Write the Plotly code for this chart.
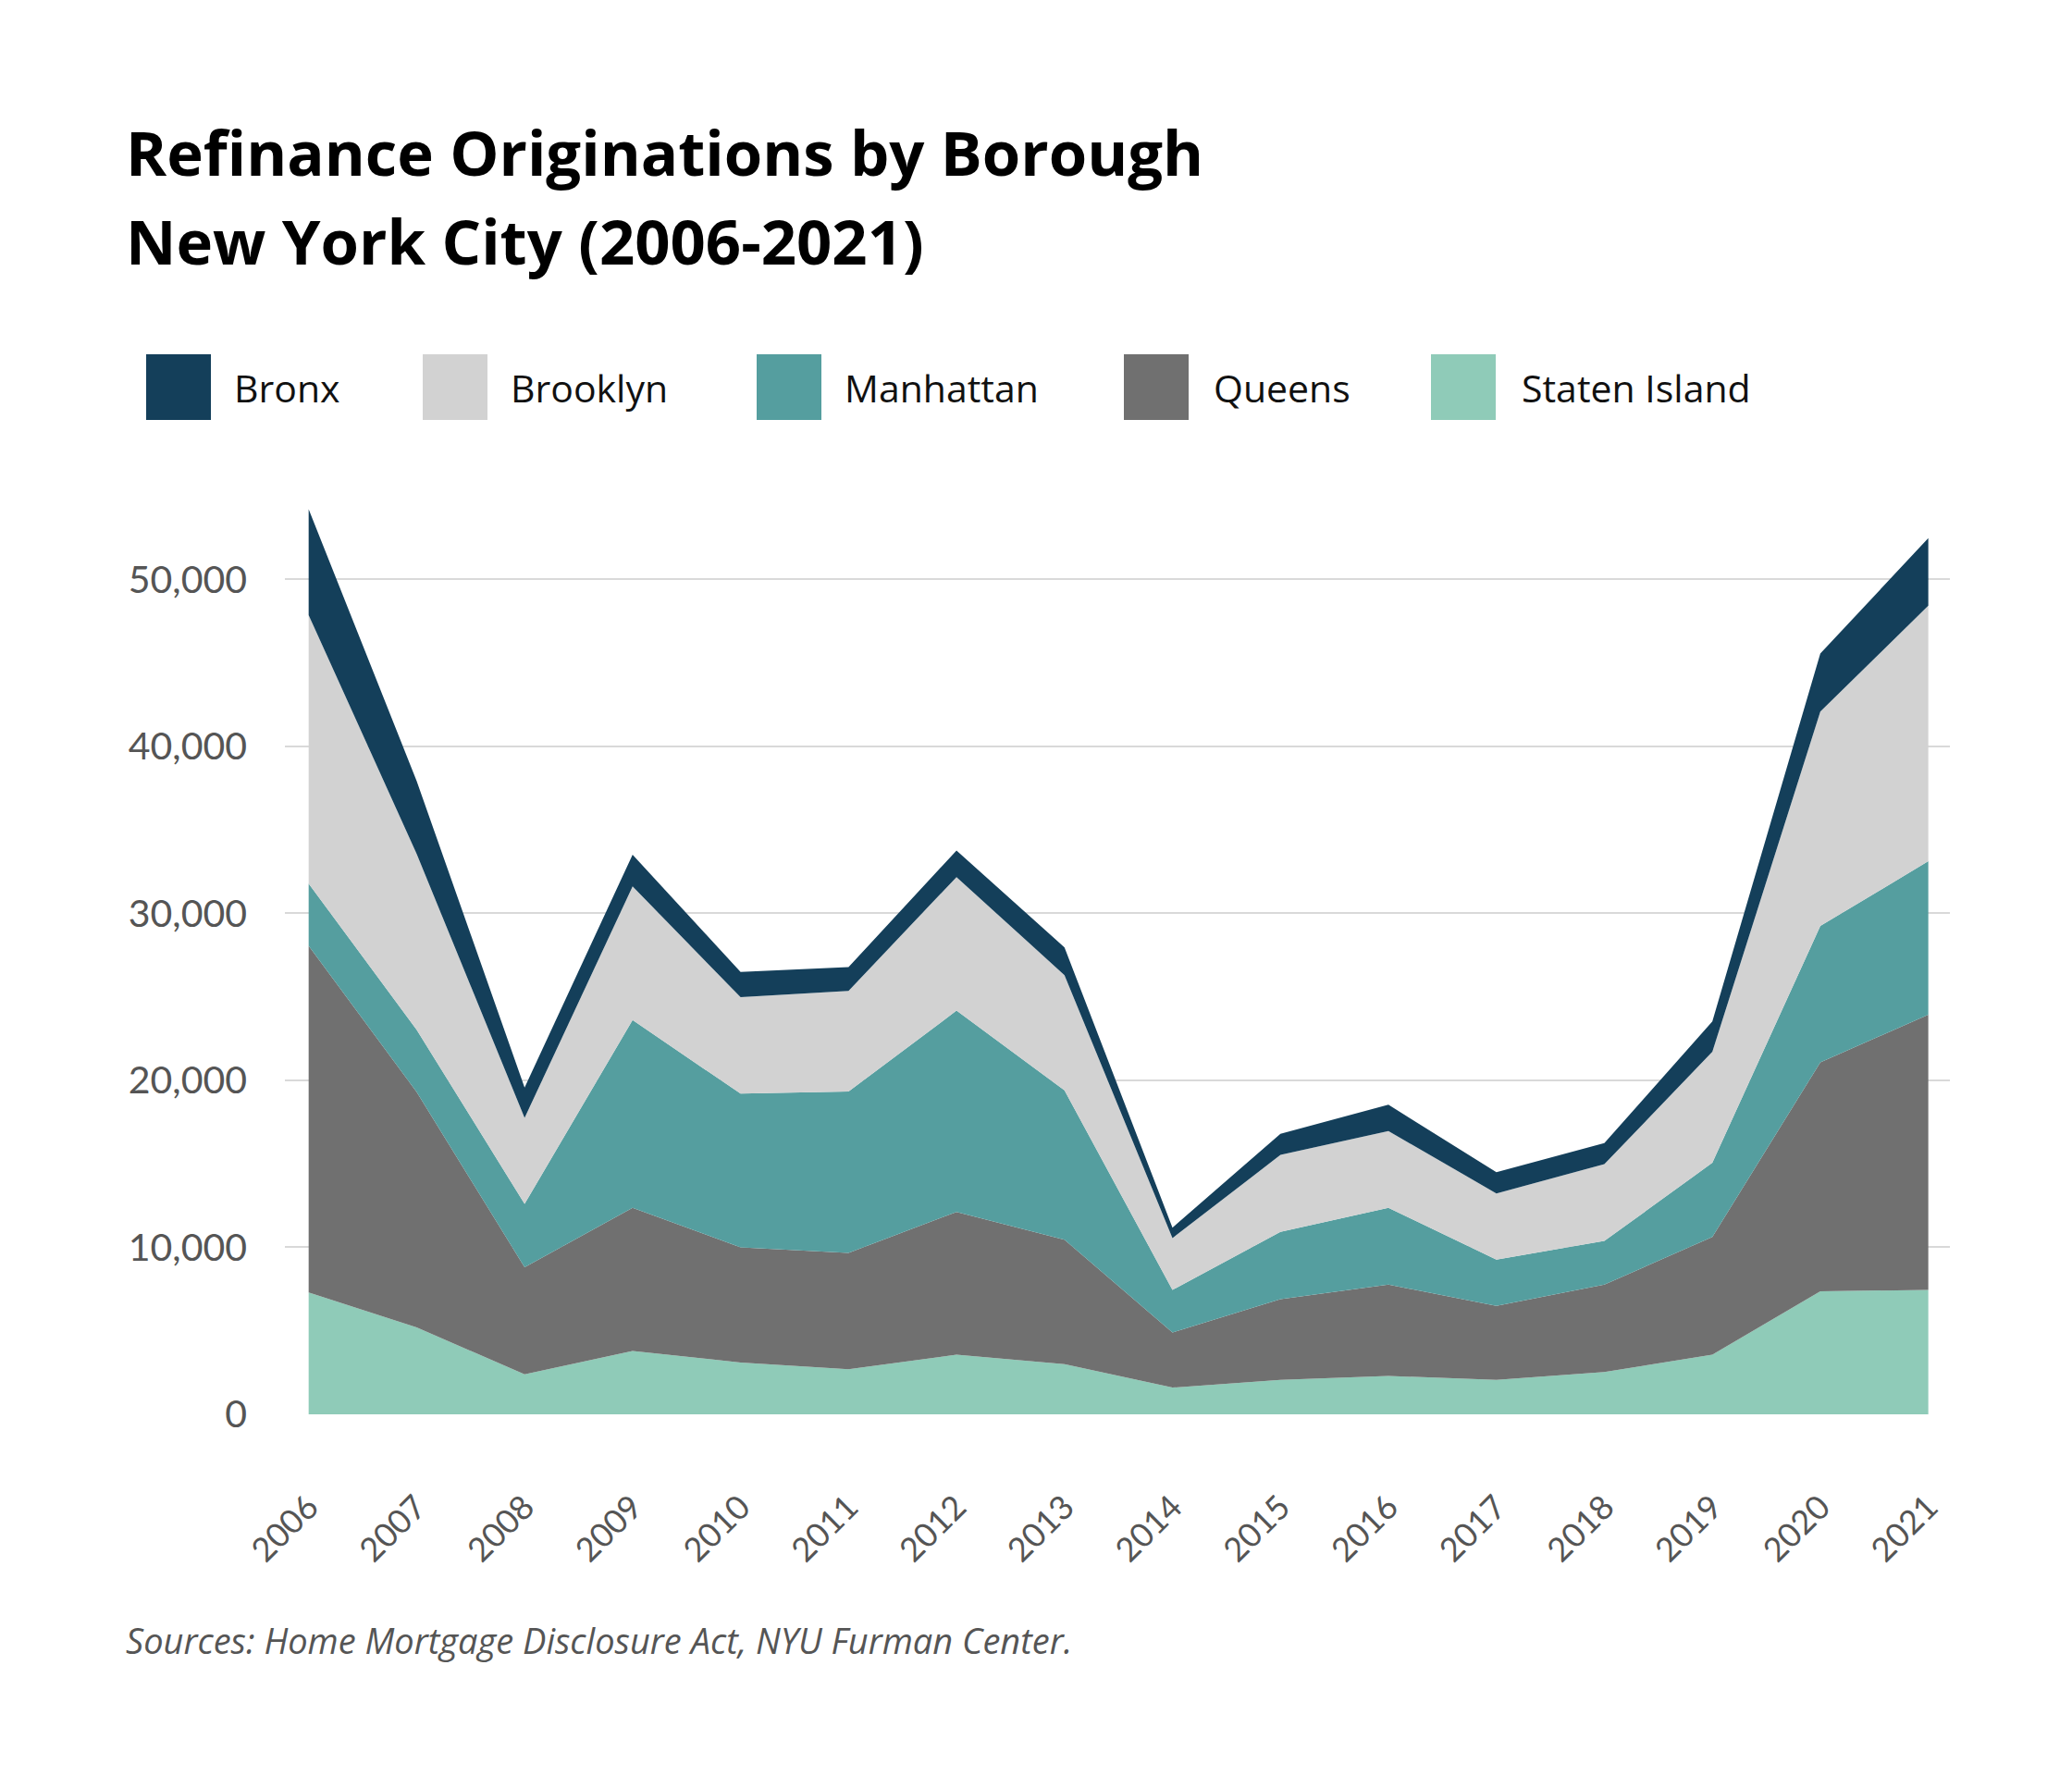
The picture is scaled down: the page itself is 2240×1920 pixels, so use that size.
import plotly.graph_objects as go

years = list(range(2006, 2022))
boroughs = ["Staten Island", "Queens", "Manhattan", "Brooklyn", "Bronx"]
staten_island = [7300, 5200, 2400, 3800, 3100, 2700, 3570, 3000, 1600, 2060, 2300, 2060, 2540, 3570, 7370, 7450]
queens = [20750, 14100, 6400, 8560, 6900, 6970, 8550, 7450, 3300, 4830, 5470, 4440, 5230, 7050, 13710, 16480]
manhattan = [3730, 3730, 3800, 11250, 9200, 9660, 12050, 8950, 2550, 4040, 4590, 2770, 2610, 4440, 8160, 9190]
brooklyn = [16080, 10540, 5150, 8000, 5780, 6030, 8000, 6900, 3100, 4600, 4600, 3960, 4600, 6650, 12840, 15300]
bronx = [6340, 4360, 1820, 1900, 1510, 1420, 1590, 1660, 630, 1270, 1580, 1270, 1260, 1820, 3480, 4040]

colors = {
    "Bronx": "#143f5a",
    "Brooklyn": "#d2d2d2",
    "Manhattan": "#559e9f",
    "Queens": "#707070",
    "Staten Island": "#8fcbb8",
}
series = {
    "Staten Island": staten_island,
    "Queens": queens,
    "Manhattan": manhattan,
    "Brooklyn": brooklyn,
    "Bronx": bronx,
}

W, H = 2240, 1920
L, R, T, B = 300, 140, 528, 399
pw, ph = W - L - R, H - T - B


def px(x):
    return (x - L) / pw


def py(y):
    return (H - B - y) / ph


fig = go.Figure()
for name in boroughs:
    fig.add_trace(go.Scatter(
        x=years, y=series[name], name=name, stackgroup="one",
        mode="lines", line=dict(width=0, color=colors[name]),
        fillcolor=colors[name], showlegend=False,
    ))

# custom legend, big square swatches
legend_order = ["Bronx", "Brooklyn", "Manhattan", "Queens", "Staten Island"]
sq_left = [150, 449, 810, 1207, 1539]
txt_left = [243, 542, 903, 1302, 1635]
shapes = []
annotations = []
for name, sx, tx in zip(legend_order, sq_left, txt_left):
    shapes.append(dict(type="rect", xref="paper", yref="paper",
                       x0=px(sx), x1=px(sx + 70), y0=py(446), y1=py(375),
                       fillcolor=colors[name], line=dict(width=0)))
    annotations.append(dict(text=name, xref="paper", yref="paper",
                            x=px(tx), y=py(411), xanchor="left", yanchor="middle",
                            showarrow=False,
                            font=dict(family="Open Sans", size=41, color="#111111")))

annotations.append(dict(text="<b>Refinance Originations by Borough</b>", xref="paper", yref="paper",
                        x=px(126), y=py(156), xanchor="left", yanchor="middle", showarrow=False,
                        font=dict(family="Open Sans", size=67, color="#000000")))
annotations.append(dict(text="<b>New York City (2006-2021)</b>", xref="paper", yref="paper",
                        x=px(126), y=py(252), xanchor="left", yanchor="middle", showarrow=False,
                        font=dict(family="Open Sans", size=67, color="#000000")))
annotations.append(dict(text="<i>Sources: Home Mortgage Disclosure Act, NYU Furman Center.</i>",
                        xref="paper", yref="paper",
                        x=px(126), y=py(1765), xanchor="left", yanchor="middle", showarrow=False,
                        font=dict(family="Open Sans", size=38, color="#555555")))

fig.update_layout(
    width=W, height=H,
    margin=dict(l=L, r=R, t=T, b=B),
    paper_bgcolor="white", plot_bgcolor="white",
    shapes=shapes, annotations=annotations,
    showlegend=False,
    xaxis=dict(range=[2005.78, 2021.2], tickmode="array", tickvals=years,
               ticktext=[str(y) for y in years], tickangle=-45,
               showgrid=False, zeroline=False, showline=False,
               ticklabelstandoff=71,
               tickfont=dict(family="Lato", size=36, color="#555555")),
    yaxis=dict(range=[0, 55000], tickvals=[0, 10000, 20000, 30000, 40000, 50000],
               tickformat=",", showgrid=True, gridcolor="#d9d9d9", gridwidth=1.5,
               zeroline=False, showline=False, ticklabelstandoff=40,
               tickfont=dict(family="Lato", size=41, color="#555555")),
)

fig.write_html("out.html")
